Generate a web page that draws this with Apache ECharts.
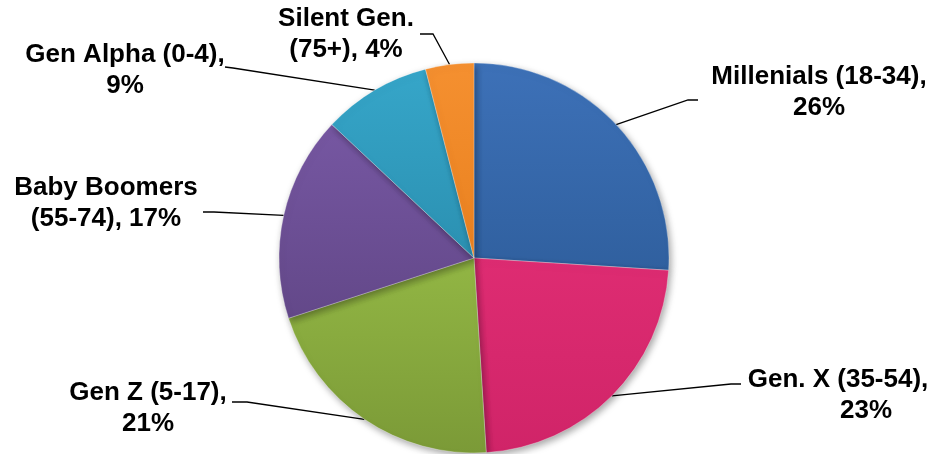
<!DOCTYPE html>
<html>
<head>
<meta charset="utf-8">
<script src="https://cdn.jsdelivr.net/npm/echarts@6/dist/echarts.min.js"></script>
<style>
  html, body { margin: 0; padding: 0; background: #fff; }
  #chart { width: 934px; height: 454px; }
</style>
</head>
<body>
<div id="chart"></div>
<script>
// Generations, clockwise from 12 o'clock
const categories = [
  'Millenials (18-34)',
  'Gen. X (35-54)',
  'Gen Z (5-17)',
  'Baby Boomers (55-74)',
  'Gen Alpha (0-4)',
  'Silent Gen. (75+)'
];
const shares = [26, 23, 21, 17, 9, 4];
// where each label wraps: after the comma, or before the age range
const wrapStyle = ['comma', 'comma', 'comma', 'age', 'comma', 'age'];

// slice fills: [top, bottom] of a vertical gradient
const sliceColors = [
  ['#3d71b8', '#30609f'],
  ['#de2c72', '#d02468'],
  ['#92b644', '#7b9a37'],
  ['#7657a2', '#634889'],
  ['#36a6c9', '#2b90b1'],
  ['#f59030', '#e9811f']
];

// label centres and guide-line bends (pixels)
const labelPlaces = [
  { x: 819, y: 92,  bend: [688, 100], end: [698, 100] },
  { x: 838, y: 395, bend: [731, 384], end: [741, 384] },
  { x: 148, y: 408, bend: [247, 402], end: [232, 402] },
  { x: 106, y: 203, bend: [214, 212], end: [203, 212] },
  { x: 125, y: 70,  bend: [233, 68],  end: [225, 67] },
  { x: 346, y: 34,  bend: [433, 34],  end: [420, 34] }
];

const CX = 474, CY = 258, R = 195;
const total = shares.reduce((a, b) => a + b, 0);

function edgePoint(i) {
  let before = 0;
  for (let k = 0; k < i; k++) before += shares[k];
  const mid = (before + shares[i] / 2) / total * Math.PI * 2;
  return [CX + R * Math.sin(mid), CY - R * Math.cos(mid)];
}

function labelText(i) {
  const name = categories[i];
  const pct = shares[i] + '%';
  if (wrapStyle[i] === 'age') {
    const cut = name.indexOf(' (');
    return name.slice(0, cut) + '\n' + name.slice(cut + 1) + ', ' + pct;
  }
  if (i === 1) return name + ',\n{shift|' + pct + '}';
  return name + ',\n' + pct;
}

const data = categories.map((name, i) => ({
  name: name,
  value: shares[i],
  itemStyle: {
    color: {
      type: 'linear', x: 0, y: 0, x2: 0, y2: 1,
      colorStops: [
        { offset: 0, color: sliceColors[i][0] },
        { offset: 1, color: sliceColors[i][1] }
      ]
    }
  }
}));

const labelFont = {
  fontFamily: 'Liberation Sans, Arial, sans-serif',
  fontWeight: 'bold',
  fontSize: 26,
  lineHeight: 31,
  color: '#000'
};

const chart = echarts.init(document.getElementById('chart'), null, { renderer: 'canvas' });
chart.setOption({
  animation: false,
  backgroundColor: '#ffffff',
  series: [{
    type: 'pie',
    center: [CX, CY],
    radius: [0, R],
    startAngle: 90,
    clockwise: true,
    avoidLabelOverlap: false,
    itemStyle: {
      borderColor: 'rgba(255,255,255,0.3)',
      borderWidth: 1,
      shadowBlur: 7,
      shadowOffsetX: 2,
      shadowOffsetY: 3,
      shadowColor: 'rgba(0,0,0,0.35)'
    },
    label: Object.assign({
      show: true,
      position: 'outside',
      align: 'center',
      formatter: p => labelText(p.dataIndex),
      rich: {
        shift: Object.assign({ padding: [0, 0, 0, 56] }, labelFont)
      }
    }, labelFont),
    labelLine: {
      show: true,
      lineStyle: { color: '#000', width: 1.3 }
    },
    labelLayout: function (params) {
      const i = params.dataIndex;
      const place = labelPlaces[i];
      const start = (params.labelLinePoints && params.labelLinePoints[0]) || edgePoint(i);
      return {
        x: place.x,
        y: place.y,
        align: 'center',
        verticalAlign: 'middle',
        labelLinePoints: [start, place.bend, place.end]
      };
    },
    emphasis: { disabled: true },
    data: data
  }]
});
</script>
</body>
</html>
